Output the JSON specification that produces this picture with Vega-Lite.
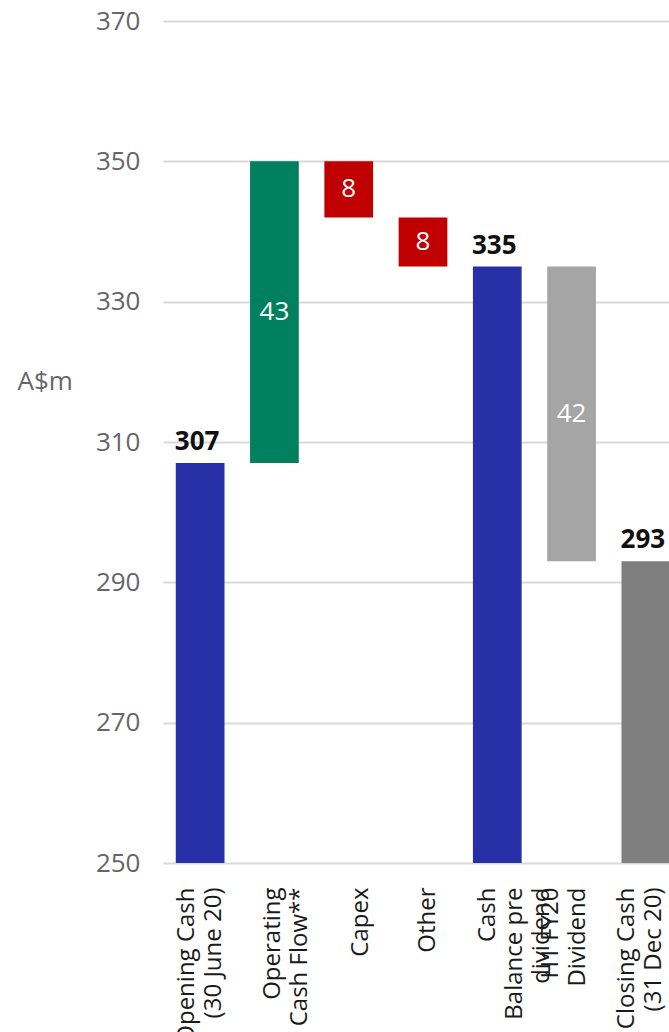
{
  "$schema": "https://vega.github.io/schema/vega-lite/v6.json",
  "width": 520,
  "height": 842,
  "autosize": "none",
  "padding": {"left": 163, "top": 21, "right": 0, "bottom": 169},
  "background": "white",
  "config": {"view": {"stroke": null}, "font": "Open Sans"},
  "data": {
    "values": [
      {"step": "Opening Cash (30 June 20)", "start": 250, "end": 307, "label": "307", "kind": "total"},
      {"step": "Operating Cash Flow**", "start": 307, "end": 350, "label": "43", "kind": "up"},
      {"step": "Capex", "start": 350, "end": 342, "label": "8", "kind": "down"},
      {"step": "Other", "start": 342, "end": 335, "label": "8", "kind": "down"},
      {"step": "Cash Balance pre dividend", "start": 250, "end": 335, "label": "335", "kind": "total"},
      {"step": "H1 FY20 Dividend", "start": 335, "end": 293, "label": "42", "kind": "dividend"},
      {"step": "Closing Cash (31 Dec 20)", "start": 250, "end": 293, "label": "293", "kind": "closing"}
    ]
  },
  "encoding": {
    "x": {
      "field": "step",
      "type": "nominal",
      "sort": null,
      "scale": {"paddingInner": 0.344, "paddingOuter": 0.172},
      "axis": {
        "title": null,
        "labelAngle": -90,
        "domain": false,
        "ticks": false,
        "grid": false,
        "labelPadding": 24,
        "labelFontSize": 24,
        "labelColor": "#1a1a1a",
        "labelLineHeight": 27,
        "labelExpr": "datum.value == 'Opening Cash (30 June 20)' ? ['Opening Cash','(30 June 20)'] : datum.value == 'Operating Cash Flow**' ? ['Operating','Cash Flow**'] : datum.value == 'Cash Balance pre dividend' ? ['Cash','Balance pre','dividend'] : datum.value == 'H1 FY20 Dividend' ? ['H1 FY20','Dividend'] : datum.value == 'Closing Cash (31 Dec 20)' ? ['Closing Cash','(31 Dec 20)'] : datum.label",
        "labelOffset": {"expr": "datum.value == 'Opening Cash (30 June 20)' ? -13 : datum.value == 'Operating Cash Flow**' ? -1 : datum.value == 'Capex' ? 12 : datum.value == 'Other' ? 5 : datum.value == 'Cash Balance pre dividend' ? -9 : datum.value == 'H1 FY20 Dividend' ? -21 : datum.value == 'Closing Cash (31 Dec 20)' ? -19 : 0"}
      }
    }
  },
  "layer": [
    {
      "mark": {"type": "bar"},
      "encoding": {
        "y": {
          "field": "start",
          "type": "quantitative",
          "scale": {"domain": [250, 370], "nice": false, "zero": false},
          "axis": {
            "values": [250, 270, 290, 310, 330, 350, 370],
            "domain": false,
            "ticks": false,
            "labelPadding": 23,
            "labelFontSize": 26,
            "labelColor": "#666666",
            "gridColor": "#d9d9d9",
            "gridWidth": 2,
            "title": "A$m",
            "titleAngle": 0,
            "titleAlign": "left",
            "titleBaseline": "middle",
            "titleX": -146,
            "titleY": 360,
            "titleFontSize": 26,
            "titleFontWeight": "normal",
            "titleColor": "#666666"
          }
        },
        "y2": {"field": "end"},
        "color": {
          "field": "kind",
          "type": "nominal",
          "scale": {
            "domain": ["total", "up", "down", "dividend", "closing"],
            "range": ["#2730A6", "#00805E", "#C00000", "#A5A5A5", "#7F7F7F"]
          },
          "legend": null
        }
      }
    },
    {
      "transform": [{"filter": "datum.kind == 'total' || datum.kind == 'closing'"}],
      "mark": {"type": "text", "baseline": "alphabetic", "dy": -13, "dx": -3, "fontWeight": "bold", "fontSize": 26, "color": "#111111"},
      "encoding": {
        "y": {"field": "end", "type": "quantitative"},
        "text": {"field": "label"}
      }
    },
    {
      "transform": [
        {"filter": "datum.kind == 'up' || datum.kind == 'down' || datum.kind == 'dividend'"},
        {"calculate": "(datum.start + datum.end) / 2", "as": "mid"}
      ],
      "mark": {"type": "text", "baseline": "middle", "fontSize": 26, "color": "white"},
      "encoding": {
        "y": {"field": "mid", "type": "quantitative"},
        "text": {"field": "label"}
      }
    }
  ]
}
